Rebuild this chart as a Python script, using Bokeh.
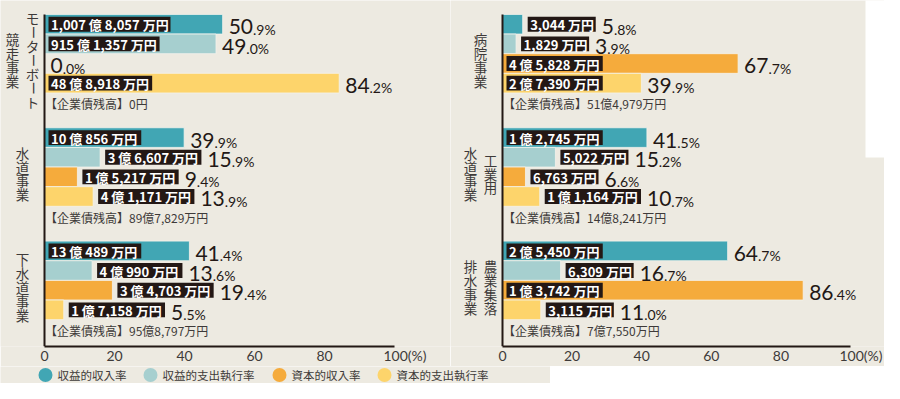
import math
from bokeh.plotting import figure
from bokeh.models import Range1d, FixedTicker, LinearAxis
from bokeh.layouts import row, column
from bokeh.core.properties import value
from bokeh.embed import file_html
from bokeh.resources import INLINE

# ---------------- data ----------------
SERIES = ["収益的収入率", "収益的支出執行率", "資本的収入率", "資本的支出執行率"]
COLORS = ["#41A6B4", "#A6CFCF", "#F5AB3C", "#FDD46B"]
X_TICKS = [0, 20, 40, 60, 80, 100]
X_TICK_LABELS = ["0", "20", "40", "60", "80", "100(%)"]
DEBT_PREFIX = "【企業債残高】"

# left panel
L_CATS = [["モーターボート", "競走事業"], ["水道事業"], ["下水道事業"]]
L_REV_IN = [50.9, 39.9, 41.4]
L_REV_OUT = [49.0, 15.9, 13.6]
L_CAP_IN = [0.0, 9.4, 19.4]
L_CAP_OUT = [84.2, 13.9, 5.5]
L_REV_IN_AMT = ["1,007 億 8,057 万円", "10 億 856 万円", "13 億 489 万円"]
L_REV_OUT_AMT = ["915 億 1,357 万円", "3 億 6,607 万円", "4 億 990 万円"]
L_CAP_IN_AMT = ["", "1 億 5,217 万円", "3 億 4,703 万円"]
L_CAP_OUT_AMT = ["48 億 8,918 万円", "4 億 1,171 万円", "1 億 7,158 万円"]
L_DEBT = ["0円", "89億7,829万円", "95億8,797万円"]

# right panel
R_CATS = [["病院事業"], ["工業用", "水道事業"], ["農業集落", "排水事業"]]
R_REV_IN = [5.8, 41.5, 64.7]
R_REV_OUT = [3.9, 15.2, 16.7]
R_CAP_IN = [67.7, 6.6, 86.4]
R_CAP_OUT = [39.9, 10.7, 11.0]
R_REV_IN_AMT = ["3,044 万円", "1 億 2,745 万円", "2 億 5,450 万円"]
R_REV_OUT_AMT = ["1,829 万円", "5,022 万円", "6,309 万円"]
R_CAP_IN_AMT = ["4 億 5,828 万円", "6,763 万円", "1 億 3,742 万円"]
R_CAP_OUT_AMT = ["2 億 7,390 万円", "1 億 1,164 万円", "3,115 万円"]
R_DEBT = ["51億4,979万円", "14億8,241万円", "7億7,550万円"]

# ---------------- style / layout ----------------
BG = "#EDEAE1"
INK = "#231815"
TXT = "#3E3A39"
CJK = "Noto Sans CJK JP"
NUM = "Lato"

FIG_H = 366
BORDER_B = 18
FRAME_H = FIG_H - BORDER_B   # 348
GROUP_TOP = 14
GROUP_H = 114
ROW_H = 19.75
BAR_H = 19.75
BOX_H = 15
DEBT_MID = 90
LABEL_MID = 46
CHAR_PITCH = 14
LAB_FS = 13
BIG_FS = 21
SMALL_FS = 14
PAD_X = 2.5
EN = "\u2002"


def est_w(s, fs):
    w = 0.0
    for ch in s:
        if ch.isdigit():
            w += 0.57
        elif ch == ",":
            w += 0.27
        elif ch == " ":
            w += 0.30
        else:
            w += 1.0
    return w * fs


def panel(cats, rates, amts, debts, width, axis_px, ppu, white_from=None):
    x0 = -axis_px / ppu
    x1 = (width - axis_px) / ppu
    p = figure(width=width, height=FIG_H, x_range=Range1d(x0, x1),
               y_range=Range1d(FRAME_H, 0), output_backend="svg",
               toolbar_location=None, y_axis_location=None,
               min_border_left=0, min_border_right=0, min_border_top=0,
               min_border_bottom=BORDER_B, background_fill_color=BG,
               border_fill_color=BG, outline_line_color=None)
    p.grid.visible = False

    if white_from is not None:
        p.quad(left=[(white_from - axis_px) / ppu], right=[x1 + 5], top=[-5],
               bottom=[158], fill_color="white", line_color=None)

    # x axis
    ax = p.xaxis[0]
    ax.ticker = FixedTicker(ticks=X_TICKS)
    ax.bounds = (X_TICKS[0], X_TICKS[-1])
    ov = {}
    for t, l in zip(X_TICKS, X_TICK_LABELS):
        # unit suffix hangs to the right of the last tick value
        ov[t] = (EN * 3 + l) if len(l) > 3 else l
    ax.major_label_overrides = ov
    ax.axis_line_color = INK
    ax.axis_line_width = 2
    ax.major_tick_out = 0
    ax.major_tick_in = 0
    ax.minor_tick_out = 0
    ax.minor_tick_in = 0
    ax.major_label_standoff = 0
    ax.major_label_text_font = NUM
    ax.major_label_text_font_size = "14px"
    ax.major_label_text_color = TXT

    # y axis line at x = 0
    yax = LinearAxis(fixed_location=0, ticker=FixedTicker(ticks=[]),
                     bounds=(GROUP_TOP, FRAME_H), axis_line_color=INK,
                     axis_line_width=2, major_tick_out=0, major_tick_in=0,
                     minor_tick_out=0, minor_tick_in=0, major_label_standoff=0,
                     major_label_text_font_size="0px")
    p.add_layout(yax, "left")

    box = dict(l=[], r=[], t=[], b=[])
    lab = dict(x=[], y=[], t=[])
    big = dict(x=[], y=[], t=[])
    small = dict(x=[], y=[], t=[])
    for s, (vals, texts) in enumerate(zip(rates, amts)):
        ys = [GROUP_TOP + g * GROUP_H + ROW_H * (s + 0.5) for g in range(len(vals))]
        p.hbar(y=ys, left=0, right=vals, height=BAR_H, fill_color=COLORS[s],
               line_color="#F4F2EC", line_width=0.8)
        for v, t, yc in zip(vals, texts, ys):
            bar_px = v * ppu
            if t:
                w = est_w(t, LAB_FS) + 2 * PAD_X
                if bar_px >= w + 10:
                    box_left = 4
                    anchor = bar_px + 6
                else:
                    box_left = bar_px + 5
                    anchor = box_left + w + 6
                box["l"].append(box_left / ppu)
                box["r"].append((box_left + w) / ppu)
                box["t"].append(yc - BOX_H / 2)
                box["b"].append(yc + BOX_H / 2)
                lab["x"].append((box_left + PAD_X) / ppu)
                lab["y"].append(yc + 0.5)
                lab["t"].append(t)
            else:
                anchor = bar_px + 6
            ip, dp = f"{v:.1f}".split(".")
            big["x"].append(anchor / ppu)
            big["y"].append(yc + 2.5)
            big["t"].append(ip)
            small["x"].append((anchor + len(ip) * 0.58 * BIG_FS) / ppu)
            small["y"].append(yc + 4.8)
            small["t"].append("." + dp + "%")

    p.quad(left=box["l"], right=box["r"], top=box["t"], bottom=box["b"],
           fill_color=INK, line_color=None)
    p.text(x=lab["x"], y=lab["y"], text=lab["t"], text_color="white",
           text_font=value(CJK), text_font_style="bold",
           text_font_size=f"{LAB_FS}px", text_baseline="middle",
           text_align="left")
    p.text(x=big["x"], y=big["y"], text=big["t"], text_color=INK,
           text_font=value(NUM), text_font_size=f"{BIG_FS}px",
           text_baseline="middle", text_align="left")
    p.text(x=small["x"], y=small["y"], text=small["t"], text_color=INK,
           text_font=value(NUM), text_font_size=f"{SMALL_FS}px",
           text_baseline="middle", text_align="left")

    # debt lines
    p.text(x=[0.5 / ppu] * len(debts),
           y=[GROUP_TOP + g * GROUP_H + DEBT_MID for g in range(len(debts))],
           text=[DEBT_PREFIX + d for d in debts], text_color=TXT,
           text_font=value(CJK), text_font_size="12px",
           text_baseline="middle", text_align="left")

    # vertical category labels
    xs, ys, ts, ang = [], [], [], []
    for g, cols in enumerate(cats):
        offs = [-22] if len(cols) == 1 else [-12, -32]
        yc = GROUP_TOP + g * GROUP_H + LABEL_MID
        for ci, col in enumerate(cols):
            m = len(col)
            for k, ch in enumerate(col):
                xs.append(offs[ci] / ppu)
                ys.append(yc + (k - (m - 1) / 2) * CHAR_PITCH)
                ts.append(ch)
                ang.append(math.pi / 2 if ch == "ー" else 0.0)
    p.text(x=xs, y=ys, text=ts, angle=ang, text_color=TXT,
           text_font=value(CJK), text_font_size="13.5px",
           text_baseline="middle", text_align="center")
    return p


left = panel(L_CATS, [L_REV_IN, L_REV_OUT, L_CAP_IN, L_CAP_OUT],
             [L_REV_IN_AMT, L_REV_OUT_AMT, L_CAP_IN_AMT, L_CAP_OUT_AMT],
             L_DEBT, width=450, axis_px=44, ppu=3.5)
right = panel(R_CATS, [R_REV_IN, R_REV_OUT, R_CAP_IN, R_CAP_OUT],
              [R_REV_IN_AMT, R_REV_OUT_AMT, R_CAP_IN_AMT, R_CAP_OUT_AMT],
              R_DEBT, width=434, axis_px=52, ppu=3.48, white_from=415)

# legend strip
LEG_H = 17
leg = figure(width=550, height=LEG_H, x_range=Range1d(0, 550),
             y_range=Range1d(-LEG_H / 2, LEG_H / 2),
             output_backend="svg", toolbar_location=None, x_axis_location=None,
             y_axis_location=None, min_border=0, background_fill_color=BG,
             border_fill_color=BG, outline_line_color=None)
leg.grid.visible = False
cx, tx = [], []
pos = 45
for name in SERIES:
    cx.append(pos)
    tx.append(pos + 12)
    pos = pos + 12 + est_w(name, 12) + 21
leg.scatter(x=cx, y=[0] * len(cx), size=14, fill_color=COLORS, line_color=None)
leg.text(x=tx, y=[0] * len(tx), text=SERIES, text_color=TXT, text_font=value(CJK),
         text_font_size="11.5px", text_baseline="middle", text_align="left")

layout = column(row(left, right, spacing=0), leg, spacing=0)
open("out.html", "w").write(file_html(layout, INLINE))
